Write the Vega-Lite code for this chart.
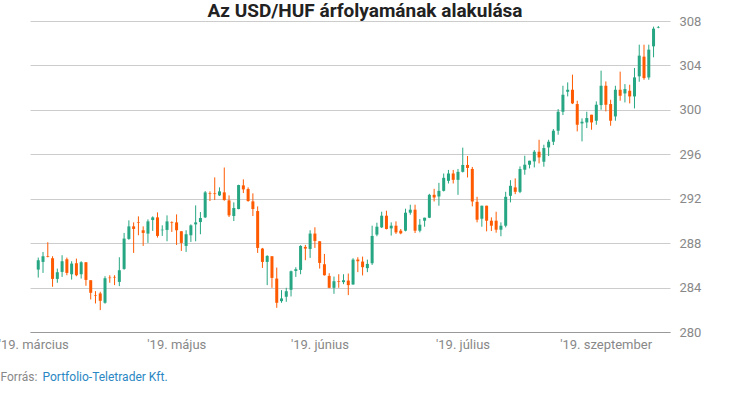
{
  "$schema": "https://vega.github.io/schema/vega-lite/v6.json",
  "width": 640,
  "height": 311,
  "autosize": {"type": "none"},
  "padding": {"left": 30, "top": 21, "right": 60, "bottom": 78},
  "background": "white",
  "title": {"text": "Az USD/HUF árfolyamának alakulása", "font": "Roboto", "fontSize": 19, "fontWeight": "bold", "color": "#222222", "anchor": "middle", "dx": 15, "dy": 10, "offset": 4},
  "config": {"view": {"stroke": null}, "font": "Roboto"},
  "data": {"values": [
    {"i":0,"o":285.62,"h":286.70,"l":284.90,"c":286.46},
    {"i":1,"o":286.31,"h":287.21,"l":285.32,"c":286.82},
    {"i":2,"o":286.82,"h":288.08,"l":286.72,"c":286.76},
    {"i":3,"o":286.64,"h":286.82,"l":284.07,"c":284.78},
    {"i":4,"o":284.78,"h":285.71,"l":284.43,"c":285.38},
    {"i":5,"o":285.41,"h":286.91,"l":284.96,"c":286.37},
    {"i":6,"o":286.55,"h":286.70,"l":285.11,"c":285.32},
    {"i":7,"o":285.20,"h":286.37,"l":284.72,"c":286.16},
    {"i":8,"o":286.19,"h":286.61,"l":285.02,"c":285.11},
    {"i":9,"o":285.20,"h":286.37,"l":284.81,"c":286.28},
    {"i":10,"o":286.28,"h":286.28,"l":284.16,"c":284.69},
    {"i":11,"o":284.66,"h":284.66,"l":282.93,"c":283.53},
    {"i":12,"o":283.32,"h":283.68,"l":282.57,"c":283.27},
    {"i":13,"o":283.47,"h":283.62,"l":281.97,"c":282.81},
    {"i":14,"o":282.63,"h":285.02,"l":282.55,"c":284.84},
    {"i":15,"o":284.90,"h":285.11,"l":284.43,"c":284.85},
    {"i":16,"o":284.96,"h":285.11,"l":284.22,"c":284.91},
    {"i":17,"o":284.51,"h":286.73,"l":284.13,"c":285.56},
    {"i":18,"o":285.68,"h":288.92,"l":285.60,"c":288.41},
    {"i":19,"o":288.38,"h":290.05,"l":288.30,"c":289.51},
    {"i":20,"o":289.51,"h":289.87,"l":287.12,"c":289.28},
    {"i":21,"o":289.90,"h":290.41,"l":288.71,"c":289.85},
    {"i":22,"o":289.16,"h":289.51,"l":287.75,"c":288.92},
    {"i":23,"o":288.86,"h":290.14,"l":288.02,"c":289.96},
    {"i":24,"o":290.08,"h":290.41,"l":289.10,"c":290.32},
    {"i":25,"o":290.32,"h":290.77,"l":288.50,"c":288.65},
    {"i":26,"o":289.16,"h":289.60,"l":288.65,"c":289.21},
    {"i":27,"o":289.19,"h":290.50,"l":288.17,"c":289.96},
    {"i":28,"o":289.87,"h":289.96,"l":289.01,"c":289.81},
    {"i":29,"o":289.87,"h":290.59,"l":287.84,"c":289.16},
    {"i":30,"o":289.07,"h":289.07,"l":287.30,"c":288.02},
    {"i":31,"o":287.75,"h":289.16,"l":287.21,"c":288.80},
    {"i":32,"o":288.71,"h":289.69,"l":288.11,"c":289.60},
    {"i":33,"o":289.69,"h":291.40,"l":288.17,"c":289.87},
    {"i":34,"o":289.90,"h":290.80,"l":288.80,"c":290.26},
    {"i":35,"o":290.32,"h":292.69,"l":290.26,"c":292.57},
    {"i":36,"o":292.48,"h":292.66,"l":291.79,"c":292.42},
    {"i":37,"o":292.48,"h":293.92,"l":291.88,"c":292.42},
    {"i":38,"o":292.30,"h":293.02,"l":292.24,"c":292.66},
    {"i":39,"o":292.57,"h":294.81,"l":291.82,"c":291.88},
    {"i":40,"o":291.85,"h":292.30,"l":290.35,"c":290.50},
    {"i":41,"o":290.44,"h":291.67,"l":289.99,"c":291.16},
    {"i":42,"o":291.07,"h":293.26,"l":291.05,"c":293.23},
    {"i":43,"o":293.20,"h":293.74,"l":292.51,"c":292.84},
    {"i":44,"o":292.87,"h":293.02,"l":291.73,"c":291.79},
    {"i":45,"o":291.76,"h":292.48,"l":290.44,"c":291.07},
    {"i":46,"o":290.89,"h":291.31,"l":287.12,"c":287.57},
    {"i":47,"o":287.51,"h":287.57,"l":285.77,"c":286.31},
    {"i":48,"o":286.31,"h":286.91,"l":284.22,"c":286.85},
    {"i":49,"o":286.82,"h":286.82,"l":283.98,"c":284.87},
    {"i":50,"o":284.81,"h":285.80,"l":282.18,"c":282.63},
    {"i":51,"o":282.78,"h":283.77,"l":282.63,"c":283.02},
    {"i":52,"o":283.17,"h":283.98,"l":282.72,"c":283.68},
    {"i":53,"o":283.80,"h":285.53,"l":283.20,"c":285.47},
    {"i":54,"o":285.50,"h":285.83,"l":284.96,"c":285.65},
    {"i":55,"o":285.59,"h":287.81,"l":285.20,"c":287.75},
    {"i":56,"o":287.66,"h":287.84,"l":286.46,"c":287.51},
    {"i":57,"o":287.48,"h":289.16,"l":286.67,"c":288.86},
    {"i":58,"o":288.86,"h":289.43,"l":287.57,"c":288.20},
    {"i":59,"o":288.17,"h":288.17,"l":285.71,"c":286.22},
    {"i":60,"o":286.10,"h":287.03,"l":285.08,"c":285.11},
    {"i":61,"o":285.05,"h":285.29,"l":283.95,"c":283.98},
    {"i":62,"o":283.98,"h":284.99,"l":283.44,"c":284.57},
    {"i":63,"o":284.57,"h":285.20,"l":283.98,"c":284.51},
    {"i":64,"o":284.49,"h":285.20,"l":284.31,"c":284.66},
    {"i":65,"o":284.63,"h":285.26,"l":283.32,"c":284.22},
    {"i":66,"o":284.28,"h":286.64,"l":284.25,"c":286.52},
    {"i":67,"o":286.52,"h":286.73,"l":285.39,"c":286.37},
    {"i":68,"o":286.34,"h":286.79,"l":285.09,"c":285.84},
    {"i":69,"o":285.75,"h":286.52,"l":285.39,"c":286.13},
    {"i":70,"o":286.19,"h":289.57,"l":286.04,"c":288.65},
    {"i":71,"o":288.77,"h":289.84,"l":288.62,"c":289.48},
    {"i":72,"o":289.42,"h":290.83,"l":289.36,"c":290.47},
    {"i":73,"o":290.47,"h":290.92,"l":289.24,"c":289.27},
    {"i":74,"o":289.33,"h":289.87,"l":288.68,"c":289.57},
    {"i":75,"o":289.57,"h":289.96,"l":288.83,"c":288.97},
    {"i":76,"o":289.12,"h":289.27,"l":288.80,"c":288.88},
    {"i":77,"o":289.12,"h":291.10,"l":289.06,"c":290.74},
    {"i":78,"o":290.74,"h":291.46,"l":290.56,"c":291.01},
    {"i":79,"o":291.01,"h":291.46,"l":288.91,"c":289.12},
    {"i":80,"o":289.12,"h":290.17,"l":288.97,"c":289.66},
    {"i":81,"o":290.02,"h":290.29,"l":289.48,"c":290.29},
    {"i":82,"o":290.29,"h":292.44,"l":290.25,"c":292.35},
    {"i":83,"o":292.35,"h":292.89,"l":291.75,"c":292.11},
    {"i":84,"o":292.20,"h":293.43,"l":291.37,"c":292.71},
    {"i":85,"o":292.71,"h":294.27,"l":292.65,"c":293.88},
    {"i":86,"o":293.61,"h":294.59,"l":293.37,"c":294.27},
    {"i":87,"o":294.27,"h":294.59,"l":293.37,"c":293.70},
    {"i":88,"o":293.70,"h":294.68,"l":292.35,"c":294.42},
    {"i":89,"o":294.42,"h":296.60,"l":294.36,"c":295.04},
    {"i":90,"o":295.04,"h":295.85,"l":293.91,"c":294.77},
    {"i":91,"o":294.68,"h":294.86,"l":291.31,"c":291.75},
    {"i":92,"o":291.72,"h":292.17,"l":289.87,"c":290.11},
    {"i":93,"o":290.20,"h":291.37,"l":289.48,"c":291.37},
    {"i":94,"o":291.37,"h":291.37,"l":289.06,"c":290.02},
    {"i":95,"o":290.02,"h":290.32,"l":289.09,"c":289.57},
    {"i":96,"o":290.02,"h":290.83,"l":288.94,"c":289.21},
    {"i":97,"o":289.21,"h":289.87,"l":288.62,"c":289.57},
    {"i":98,"o":289.57,"h":292.62,"l":289.42,"c":292.17},
    {"i":99,"o":292.26,"h":293.67,"l":291.67,"c":293.16},
    {"i":100,"o":293.02,"h":293.83,"l":292.41,"c":292.62},
    {"i":101,"o":292.62,"h":294.91,"l":292.50,"c":294.67},
    {"i":102,"o":294.61,"h":295.87,"l":294.16,"c":295.06},
    {"i":103,"o":295.06,"h":295.42,"l":294.73,"c":295.42},
    {"i":104,"o":295.36,"h":296.38,"l":294.82,"c":296.23},
    {"i":105,"o":296.23,"h":297.31,"l":295.18,"c":295.72},
    {"i":106,"o":295.33,"h":296.86,"l":294.88,"c":296.56},
    {"i":107,"o":296.62,"h":297.31,"l":295.84,"c":297.13},
    {"i":108,"o":297.13,"h":298.27,"l":296.83,"c":298.12},
    {"i":109,"o":298.12,"h":300.07,"l":297.76,"c":299.83},
    {"i":110,"o":299.83,"h":302.17,"l":299.53,"c":301.36},
    {"i":111,"o":301.63,"h":302.47,"l":301.21,"c":301.81},
    {"i":112,"o":301.81,"h":303.17,"l":300.52,"c":300.58},
    {"i":113,"o":300.52,"h":300.82,"l":298.06,"c":298.66},
    {"i":114,"o":298.78,"h":299.23,"l":297.16,"c":298.93},
    {"i":115,"o":298.87,"h":299.83,"l":298.36,"c":299.26},
    {"i":116,"o":299.56,"h":299.56,"l":298.21,"c":298.87},
    {"i":117,"o":299.02,"h":300.76,"l":298.66,"c":300.46},
    {"i":118,"o":300.43,"h":303.53,"l":300.01,"c":302.17},
    {"i":119,"o":302.17,"h":302.56,"l":299.86,"c":300.46},
    {"i":120,"o":300.52,"h":300.91,"l":298.57,"c":299.02},
    {"i":121,"o":299.41,"h":302.17,"l":299.02,"c":301.81},
    {"i":122,"o":301.81,"h":303.44,"l":300.82,"c":301.27},
    {"i":123,"o":301.48,"h":302.32,"l":300.67,"c":301.87},
    {"i":124,"o":301.72,"h":302.26,"l":300.58,"c":301.21},
    {"i":125,"o":301.21,"h":303.77,"l":300.13,"c":302.92},
    {"i":126,"o":303.02,"h":305.87,"l":302.53,"c":304.88},
    {"i":127,"o":304.79,"h":305.87,"l":302.71,"c":302.86},
    {"i":128,"o":302.92,"h":305.87,"l":302.71,"c":305.42},
    {"i":129,"o":305.72,"h":307.49,"l":304.73,"c":307.31},
    {"i":130,"o":307.40,"h":307.55,"l":307.35,"c":307.45}
  ]},
  "encoding": {
    "x": {
      "field": "i", "type": "quantitative",
      "scale": {"domain": [-0.68, 131.4], "nice": false, "zero": false},
      "axis": {
        "values": [0, 30, 60, 90, 120],
        "labelExpr": "datum.value == 0 ? \"'19. március\" : datum.value == 30 ? \"'19. május\" : datum.value == 60 ? \"'19. június\" : datum.value == 90 ? \"'19. július\" : \"'19. szeptember\"",
        "grid": false, "ticks": false, "tickSize": 0, "domain": true, "domainColor": "#999999", "domainWidth": 1,
        "labelColor": "#888888", "labelFont": "Roboto", "labelFontSize": 13, "labelPadding": 6,
        "labelFlush": false, "labelOverlap": false, "labelBound": false, "labelOffset": -5,
        "title": "Forrás:", "titleX": -30, "titleY": 48, "titleAlign": "left", "titleAnchor": "start",
        "titleBaseline": "alphabetic", "titleFont": "Roboto", "titleFontSize": 12, "titleFontWeight": "normal", "titleColor": "#888888"
      }
    }
  },
  "layer": [
    {
      "mark": {"type": "rule", "strokeWidth": 1},
      "encoding": {
        "y": {
          "field": "l", "type": "quantitative",
          "scale": {"domain": [280, 308], "nice": false, "zero": false},
          "axis": {
            "orient": "right", "values": [280, 284, 288, 292, 296, 300, 304, 308],
            "grid": true, "gridColor": "#cccccc", "gridWidth": 1, "domain": false, "ticks": false, "tickSize": 0,
            "labelColor": "#888888", "labelFont": "Roboto", "labelFontSize": 13, "labelPadding": 9,
            "title": "Portfolio-Teletrader Kft.", "titleAngle": 0, "titleX": -628, "titleY": 359,
            "titleAlign": "left", "titleBaseline": "alphabetic", "titleColor": "#2a87c3",
            "titleFont": "Roboto", "titleFontSize": 12, "titleFontWeight": "normal"
          }
        },
        "y2": {"field": "h"},
        "color": {"condition": {"test": "datum.c > datum.o", "value": "#26a682"}, "value": "#ff5a00"}
      }
    },
    {
      "mark": {"type": "bar", "size": 3},
      "encoding": {
        "y": {"field": "o", "type": "quantitative"},
        "y2": {"field": "c"},
        "color": {"condition": {"test": "datum.c > datum.o", "value": "#26a682"}, "value": "#ff5a00"}
      }
    }
  ]
}
